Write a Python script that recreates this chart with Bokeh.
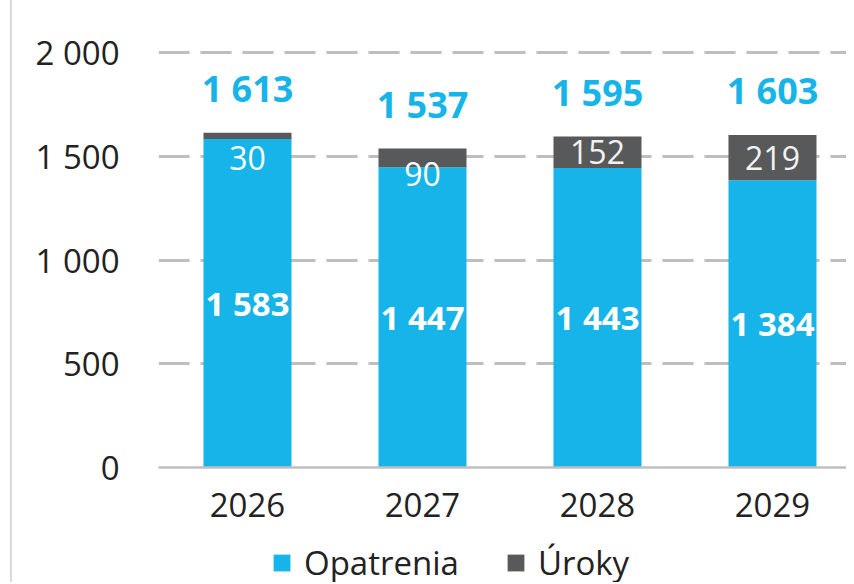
from bokeh.plotting import figure
from bokeh.layouts import column
from bokeh.models import ColumnDataSource, Range1d, FixedTicker, Legend, LegendItem
from bokeh.core.properties import value
from bokeh.embed import file_html
from bokeh.resources import INLINE

years = ["2026", "2027", "2028", "2029"]
opatrenia = [1583, 1447, 1443, 1384]
uroky = [30, 90, 152, 219]
totals = [1613, 1537, 1595, 1603]
y_ticks = [0, 500, 1000, 1500, 2000]
series = ["Opatrenia", "Úroky"]

BLUE = "#16B4E8"
GRAY = "#58595B"
GRID = "#BFBFBF"
FONT = "Open Sans"
TXT = "#222222"

def fmt(v):
    return f"{v:,}".replace(",", " ")

xs = list(range(len(years)))
px_per_unit = 449 / 2164.0

src = ColumnDataSource(dict(x=xs, op=opatrenia, ur=uroky))

p = figure(width=846, height=536, output_backend="svg", toolbar_location=None,
           x_range=Range1d(-0.5086, 3.423), y_range=Range1d(0, 2164),
           min_border_left=158, min_border_right=0, min_border_top=18,
           min_border_bottom=69)
p.outline_line_color = None
p.background_fill_color = "white"
p.border_fill_color = None

rs = p.vbar_stack(["op", "ur"], x="x", width=0.503, color=[BLUE, GRAY],
                  line_color=None, source=src)

# inner labels (Opatrenia)
p.text(x=xs, y=[v / 2 for v in opatrenia], text=[fmt(v) for v in opatrenia],
       text_color="white", text_font=value(FONT), text_font_style="bold",
       text_font_size="33px", text_align="center", text_baseline="middle")

# Uroky labels
ur_y, ur_off, ur_col = [], [], []
for o, u in zip(opatrenia, uroky):
    if u * px_per_unit > 25:
        ur_y.append(o + u / 2); ur_off.append(0); ur_col.append("#F2F2F2")
    else:
        ur_y.append(o + u); ur_off.append(25); ur_col.append("white")
p.text(x=xs, y=ur_y, text=[str(u) for u in uroky], y_offset=ur_off,
       text_color=ur_col, text_font=value(FONT),
       text_font_size="32px", text_align="center", text_baseline="middle")

# totals
p.text(x=xs, y=totals, text=[fmt(t) for t in totals], y_offset=-44,
       text_color=BLUE, text_font=value(FONT), text_font_style="bold",
       text_font_size="36px", text_align="center", text_baseline="middle")

# axes
p.xaxis.ticker = FixedTicker(ticks=xs)
p.xaxis.major_label_overrides = {i: y for i, y in zip(xs, years)}
p.xaxis.major_tick_line_color = None
p.xaxis.minor_tick_line_color = None
p.xaxis.axis_line_color = GRID
p.xaxis.axis_line_width = 2.5
p.xaxis.major_label_text_font = FONT
p.xaxis.major_label_text_font_size = "33px"
p.xaxis.major_label_text_color = TXT
p.xaxis.major_label_standoff = 19

p.yaxis.ticker = FixedTicker(ticks=y_ticks)
p.yaxis.major_label_overrides = {t: fmt(t) for t in y_ticks}
p.yaxis.major_tick_line_color = None
p.yaxis.minor_tick_line_color = None
p.yaxis.axis_line_color = None
p.yaxis.major_label_text_font = FONT
p.yaxis.major_label_text_font_size = "33px"
p.yaxis.major_label_text_color = TXT
p.yaxis.major_label_standoff = 33

p.xgrid.grid_line_color = None
p.ygrid.ticker = FixedTicker(ticks=[t for t in y_ticks if t > 0])
p.ygrid.grid_line_color = GRID
p.ygrid.grid_line_width = 3
p.ygrid.grid_line_dash = "31 11"

# legend figure (zero-height proxy bars only carry the legend swatches)
pl = figure(width=846, height=46, output_backend="svg", toolbar_location=None,
            x_axis_type=None, y_axis_type=None, min_border=0,
            min_border_left=158, min_border_right=0,
            x_range=Range1d(0, 1), y_range=Range1d(0, 1))
pl.outline_line_color = None
pl.border_fill_color = None
pl.background_fill_color = None
pl.grid.visible = False
lr = [pl.vbar(x=[0.5], bottom=[0], top=[0], width=0.01, fill_color=c,
              line_color=None) for c in [BLUE, GRAY]]
legend = Legend(items=[LegendItem(label=s, renderers=[r]) for s, r in zip(series, lr)],
                orientation="horizontal", location=(113, -3),
                label_text_font=FONT, label_text_font_size="33px",
                label_text_color=TXT, glyph_width=21, glyph_height=21,
                label_standoff=12, spacing=46, padding=0, margin=0,
                border_line_color=None, background_fill_alpha=0)
pl.add_layout(legend, "center")

layout = column(p, pl, spacing=0, styles={
    "background": "linear-gradient(to right, white 10px, #D9D9D9 10px, "
                  "#D9D9D9 12px, white 12px)"})
open("out.html", "w").write(file_html(layout, INLINE))
